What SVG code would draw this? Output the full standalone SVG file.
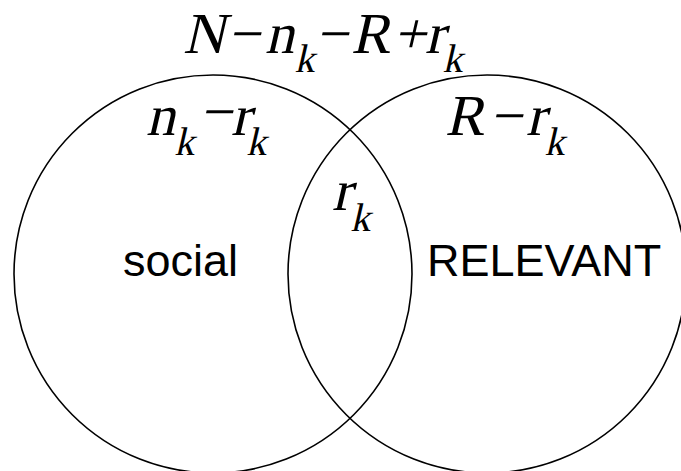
<svg xmlns="http://www.w3.org/2000/svg" width="681" height="471" viewBox="0 0 681 471">
<style>
.c{fill:none;stroke:#000;stroke-width:1.6}
.m{font-family:'Liberation Serif','Times New Roman',serif;font-style:normal;font-size:58px;fill:#000}
.s{font-size:40px}
.t{font-family:'Liberation Sans',Arial,sans-serif;font-size:45px;fill:#000}
</style>
<rect width="681" height="471" fill="#fff"/>
<g id="social">
<circle class="c" cx="213" cy="274" r="199"/>
<text class="t" x="123" y="276">social</text>
</g>
<g id="relevant">
<circle class="c" cx="487" cy="274" r="199"/>
<text class="t" x="427" y="276">RELEVANT</text>
</g>
<g id="labels">
<text class="m" transform="translate(183 53) skewX(-13)"><tspan x="0" y="0">N</tspan><tspan x="44" y="0">−</tspan><tspan x="82" y="0">n</tspan><tspan class="s" x="116" y="19">k</tspan><tspan x="132" y="0">−</tspan><tspan x="168" y="0">R</tspan><tspan x="210" y="0">+</tspan><tspan x="242" y="0">r</tspan><tspan class="s" x="264" y="19">k</tspan></text>
<text class="m" transform="translate(146 135) skewX(-13)"><tspan x="0" y="0">n</tspan><tspan class="s" x="33" y="20">k</tspan><tspan x="52" y="-4">−</tspan><tspan x="85" y="0">r</tspan><tspan class="s" x="105" y="20">k</tspan></text>
<text class="m" transform="translate(445 135) skewX(-13)"><tspan x="0" y="0">R</tspan><tspan x="44" y="0">−</tspan><tspan x="81" y="0">r</tspan><tspan class="s" x="104" y="20">k</tspan></text>
<text class="m" transform="translate(332 210) skewX(-13)"><tspan x="0" y="0">r</tspan><tspan class="s" x="23" y="21">k</tspan></text>
</g>
<g id="connectors"/>
</svg>
